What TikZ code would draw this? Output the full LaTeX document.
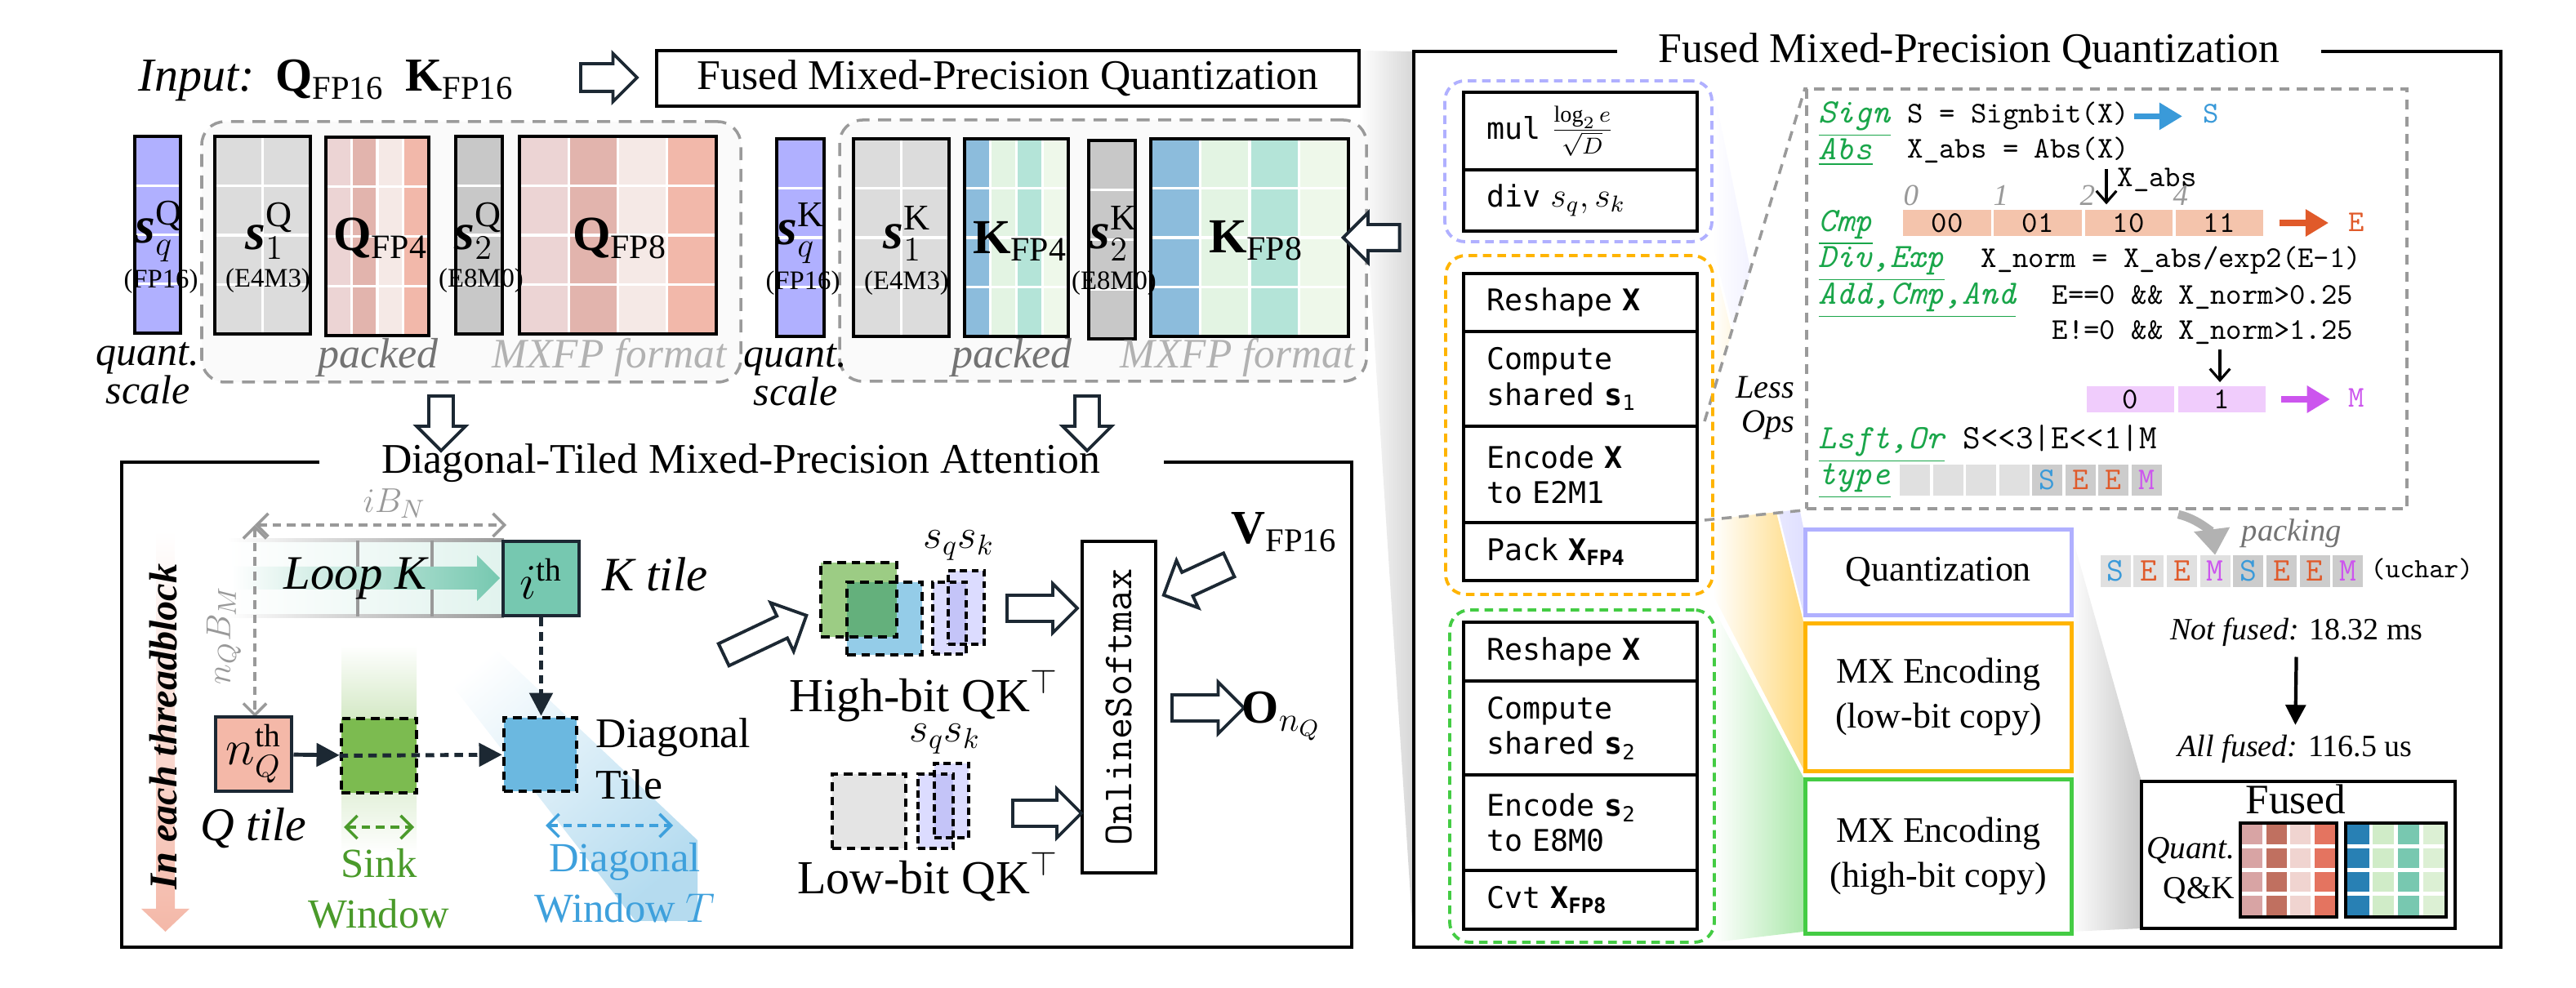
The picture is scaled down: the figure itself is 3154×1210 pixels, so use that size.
\documentclass[tikz,border=0pt]{standalone}
\usepackage{fontspec}
\setmainfont{Liberation Serif}
\newfontfamily\opsfont{DejaVu Sans Mono}
\usetikzlibrary{positioning,arrows.meta,fit,shapes.arrows}

\definecolor{darkline}{HTML}{1C2833}
\definecolor{dashgray}{HTML}{9A9A9A}
\definecolor{sqpurple}{HTML}{B0B0FF}
\definecolor{sonegray}{HTML}{DCDCDC}
\definecolor{stwogray}{HTML}{C8C8C8}
\definecolor{qa}{HTML}{ECD4D4}
\definecolor{qb}{HTML}{E2B4AD}
\definecolor{qc}{HTML}{F5E9E6}
\definecolor{qd}{HTML}{F2B8AA}
\definecolor{ka}{HTML}{8CBCDC}
\definecolor{kb}{HTML}{E3F4E3}
\definecolor{kc}{HTML}{B4E4D8}
\definecolor{kd}{HTML}{EEF8EA}
\definecolor{fqa}{HTML}{D8A4A4}
\definecolor{fqb}{HTML}{C07060}
\definecolor{fqc}{HTML}{F0D4D0}
\definecolor{fqd}{HTML}{E47460}
\definecolor{fka}{HTML}{2880B4}
\definecolor{fkb}{HTML}{D0ECC8}
\definecolor{fkc}{HTML}{78C8B0}
\definecolor{fkd}{HTML}{DCF0D4}
\definecolor{tealtile}{HTML}{76C8B0}
\definecolor{salmontile}{HTML}{F4B8A8}
\definecolor{sinkgreen}{HTML}{7CBB50}
\definecolor{diagblue}{HTML}{6BB8E0}
\definecolor{sinktext}{HTML}{4A9A2A}
\definecolor{diagtext}{HTML}{3EA0DC}
\definecolor{hgreen}{HTML}{9CCC84}
\definecolor{hblue}{HTML}{94CCE8}
\definecolor{hover}{HTML}{64B07C}
\definecolor{lav}{HTML}{DCDCFF}
\definecolor{lavover}{HTML}{C4C4F8}
\definecolor{lowgray}{HTML}{E4E4E4}
\definecolor{grpurple}{HTML}{B0B0FF}
\definecolor{grorange}{HTML}{FFB400}
\definecolor{grgreen}{HTML}{44CC44}
\definecolor{codegreen}{HTML}{1AA64A}
\definecolor{sblue}{HTML}{3A9AD9}
\definecolor{eorange}{HTML}{E05A2A}
\definecolor{mpurple}{HTML}{CC55EE}
\definecolor{ecell}{HTML}{F4C4AC}
\definecolor{mcell}{HTML}{F0CCFC}
\definecolor{lightcell}{HTML}{E0E0E0}
\definecolor{darkcell}{HTML}{CCCCCC}

\newcommand{\fsz}[2]{\fontsize{#1}{#2}\selectfont}
\newcommand{\sv}{\textbf{\textit{s}}}
\newcommand{\gapw}{0.9pt}
% columns of colour with a white 4-row grid, outlined and named
\newcommand{\mxblock}[7]{%
  \foreach \cc [count=\ci from 0] in {#7} {
    \fill[\cc] ({#2+\ci*(#4-#2)/#6},#3) rectangle ({#2+(\ci+1)*(#4-#2)/#6},#5);
    \draw[white,line width=\gapw] ({#2+\ci*(#4-#2)/#6},#3) -- ({#2+\ci*(#4-#2)/#6},#5);
  }
  \foreach \ri in {1,2,3}
    \draw[white,line width=\gapw] (#2,{#3+\ri*(#5-#3)/4}) -- (#4,{#3+\ri*(#5-#3)/4});
  \node[fit={(#2,#3) (#4,#5)},inner sep=0pt,draw,line width=1pt] (#1) {};
}

\begin{document}
\begin{tikzpicture}[x=0.01cm,y=-0.01cm,
  hollow/.style n args={3}{single arrow,draw=darkline,fill=white,line width=1.1pt,inner xsep=0pt,inner ysep=#2,minimum height=#1,single arrow head extend=#3},
  qkgrp/.style={draw=dashgray,dash pattern=on 4.5pt off 3pt,line width=1pt,rounded corners=8pt,fill=black!2,inner sep=0pt},
  slabel/.style={font=\fsz{18}{20}},
  fmtlabel/.style={font=\fsz{9.3}{10}},
  biglabel/.style={font=\fsz{17}{20}},
  scalenote/.style={anchor=north,inner sep=0pt,align=center,font=\itshape\fsz{14.2}{13.4}},
  tiledash/.style={draw=black,line width=1.3pt,dash pattern=on 3pt off 2pt,inner sep=0pt},
  smalldash/.style={draw=black,line width=1pt,dash pattern=on 2.5pt off 1.5pt,inner sep=0pt},
  tilebox/.style={draw=darkline,line width=1.4pt,inner sep=0pt,minimum width=0.93cm,minimum height=0.91cm},
  blackarrow/.style={darkline,line width=1.4pt,-{Triangle[length=8pt,width=8pt]}},
  dimline/.style={black!40,line width=1pt,dash pattern=on 3pt off 2pt,{Straight Barb[length=4pt,width=8pt]}-{Straight Barb[length=4pt,width=8pt]}},
  winline/.style={line width=1pt,dash pattern=on 3pt off 2pt,{Straight Barb[length=4pt,width=8pt]}-{Straight Barb[length=4pt,width=8pt]}},
  grp/.style={dash pattern=on 3pt off 2pt,line width=1.1pt,rounded corners=7pt,inner sep=0pt},
  opbox/.style={draw,line width=1.2pt,anchor=north west,inner xsep=0.28cm,inner ysep=0pt,text width=2.3cm,minimum width=2.86cm,align=left,font=\opsfont\fsz{10.4}{12.3}},
  mxbox/.style={draw,line width=1.3pt,anchor=north west,minimum width=3.26cm,align=center,font=\fsz{12.5}{15.6}},
  lbl/.style={font=\ttfamily\itshape\fsz{11.9}{14},text=codegreen,anchor=base west,inner sep=0pt},
  code/.style={font=\ttfamily\fsz{10.5}{12},anchor=base west,inner sep=0pt},
  cell/.style={minimum width=1.07cm,minimum height=0.32cm,inner sep=0pt,font=\ttfamily\fsz{10.5}{12}},
  bitcell/.style={minimum width=0.37cm,minimum height=0.38cm,inner sep=0pt,font=\ttfamily\fsz{11}{12}},
  numlbl/.style={anchor=base west,inner sep=0pt,text=black!40,font=\itshape\fsz{10.5}{12}},
  colarrow/.style={line width=2pt,-{Triangle[length=8pt,width=9pt]}},
  thinarrow/.style={line width=0.9pt,-{Straight Barb[length=4pt,width=7pt]}}
]
\useasboundingbox (0,0) rectangle (3154,1210);
\shade[left color=white,right color=black!16] (1664,62) -- (1731,63) -- (1731,1160) -- (1664,130) -- cycle;

% ---- input row
\node[anchor=base west,inner sep=0pt,font=\fsz{16.5}{18}] (inp) at (169,112) {\textit{Input:}\hspace{0.45em}\textbf{Q}\textsubscript{FP16}\hspace{0.45em}\textbf{K}\textsubscript{FP16}};
\node[hollow={0.69cm}{0.15cm}{0.125cm}] (a0) at (737,95) {};
\node[draw,line width=1.1pt,minimum width=8.6cm,minimum height=0.68cm,font=\fsz{14.7}{17}] (fmpq) at (1234,96) {Fused Mixed-Precision Quantization};

% ---- quantized Q
\node[qkgrp,fit={(247,149) (907,468)}] (qgrp) {};
\mxblock{sqq}{165}{167}{221}{408}{1}{sqpurple}
\mxblock{soneq}{263}{167}{380}{409}{2}{sonegray,sonegray}
\mxblock{qfp4}{399}{168}{525}{411}{4}{qa,qb,qc,qd}
\mxblock{stwoq}{558}{167}{615}{409}{1}{stwogray}
\mxblock{qfp8}{636}{167}{877}{409}{4}{qa,qb,qc,qd}
\node[slabel] (lsqq) at (195,283) {\sv$^{\mathrm{Q}}_{q}$};
\node[fmtlabel] (fsqq) at (197,345) {(FP16)};
\node[slabel] (lsoneq) at (330,283) {\sv$^{\mathrm{Q}}_{1}$};
\node[fmtlabel] (fsoneq) at (328,344) {(E4M3)};
\node[biglabel] (lqfp4) at (466,292) {\textbf{Q}\textsubscript{FP4}};
\node[slabel] (lstwoq) at (586,283) {\sv$^{\mathrm{Q}}_{2}$};
\node[fmtlabel] (fstwoq) at (589,344) {(E8M0)};
\node[biglabel] (lqfp8) at (759,292) {\textbf{Q}\textsubscript{FP8}};
\node[scalenote] (qsc) at (181,419) {quant.\\scale};
\node[anchor=base,text=black!55,font=\itshape\fsz{14.8}{16}] (qpk) at (463,451) {packed};
\node[anchor=base,text=black!30,font=\itshape\fsz{14.6}{16}] (qmx) at (746,451) {MXFP format};

% ---- quantized K
\node[qkgrp,fit={(1028,147) (1673,467)}] (kgrp) {};
\mxblock{sqk}{951}{170}{1009}{412}{1}{sqpurple}
\mxblock{sonek}{1045}{170}{1162}{412}{2}{sonegray,sonegray}
\mxblock{kfp4}{1181}{170}{1308}{412}{4}{ka,kb,kc,kd}
\mxblock{stwok}{1333}{172}{1390}{415}{1}{stwogray}
\mxblock{kfp8}{1409}{170}{1651}{412}{4}{ka,kb,kc,kd}
\node[slabel] (lsqk) at (981,286) {\sv$^{\mathrm{K}}_{q}$};
\node[fmtlabel] (fsqk) at (983,347) {(FP16)};
\node[slabel] (lsonek) at (1111,286) {\sv$^{\mathrm{K}}_{1}$};
\node[fmtlabel] (fsonek) at (1110,347) {(E4M3)};
\node[biglabel] (lkfp4) at (1249,295) {\textbf{K}\textsubscript{FP4}};
\node[slabel] (lstwok) at (1364,286) {\sv$^{\mathrm{K}}_{2}$};
\node[fmtlabel] (fstwok) at (1364,347) {(E8M0)};
\node[biglabel] (lkfp8) at (1538,295) {\textbf{K}\textsubscript{FP8}};
\node[scalenote] (ksc) at (974,421) {quant.\\scale};
\node[anchor=base,text=black!55,font=\itshape\fsz{14.8}{16}] (kpk) at (1239,451) {packed};
\node[anchor=base,text=black!30,font=\itshape\fsz{14.6}{16}] (kmx) at (1515,451) {MXFP format};
\node[hollow={0.69cm}{0.14cm}{0.145cm},rotate=180] (akin) at (1687,291) {};
\node[hollow={0.67cm}{0.13cm}{0.15cm},rotate=-90] (aq) at (540,511) {};
\node[hollow={0.67cm}{0.13cm}{0.15cm},rotate=-90] (ak) at (1331,511) {};

% ---- attention panel
\draw[line width=1.3pt] (391,566) -- (149,566) -- (149,1160) -- (1655,1160) -- (1655,566) -- (1425,566);
\node[anchor=base,font=\fsz{14.7}{17}] (dtitle) at (907,580) {Diagonal-Tiled Mixed-Precision Attention};
\shade[top color=white,bottom color=salmontile] (191,650) -- (214,650) -- (214,1113) -- (232,1113) -- (202.5,1141) -- (173,1113) -- (191,1113) -- cycle;
\node[rotate=90,font=\bfseries\itshape\fsz{13.7}{15}] (tb) at (200,890) {In each threadblock};
\shade[left color=white,right color=tealtile!22] (278,662) rectangle (617,755);
\shade[left color=white,right color=black!40] (278,660) rectangle (617,664);
\shade[left color=white,right color=black!40] (278,753) rectangle (617,757);
\draw[black!40,line width=0.9pt] (438,662) -- (438,755) (529,662) -- (529,755);
\shade[left color=white,right color=tealtile] (283,694) -- (584,694) -- (584,680) -- (612,708) -- (584,736) -- (584,722) -- (283,722) -- cycle;
\node[anchor=base west,inner sep=0pt,font=\itshape\fsz{16.7}{18}] (loopk) at (347,722) {Loop K};
\shade[top color=white,bottom color=sinkgreen!40] (418,790) rectangle (510,900);
\shade[top color=sinkgreen!40,bottom color=white] (418,900) rectangle (510,1045);
\shade[top color=white,bottom color=diagblue!50,shading angle=40] (515,790) -- (589,778) -- (854,1029) -- (854,1128) -- (778,1128) -- cycle;
\coordinate (dc) at (312,643);
\coordinate (dn) at (620,643);
\coordinate (dm) at (312,878);
\draw[dimline] (dc) -- (dn);
\draw[dimline] (dc) -- (dm);
\node[text=black!40,font=\fsz{13}{14}] (ibn) at (483,617) {$iB_N$};
\node[rotate=90,text=black!40,font=\fsz{13}{14}] (nqbm) at (274,778) {$n_QB_M$};
\node[tilebox,fill=tealtile,font=\fsz{16}{18}] (kt) at (662.5,708.5) {$i^{\mathrm{th}}$};
\node[anchor=base west,inner sep=0pt,font=\itshape\fsz{16.7}{18}] (ktl) at (737,724) {K tile};
\node[tilebox,fill=salmontile,font=\fsz{16}{18}] (qt) at (310.5,923.5) {$n_Q^{\mathrm{th}}$};
\node[anchor=base west,inner sep=0pt,font=\itshape\fsz{16.4}{18}] (qtl) at (245,1030) {Q tile};
\node[tiledash,fill=sinkgreen,minimum width=0.92cm,minimum height=0.91cm] (sk) at (464,925.5) {};
\node[tiledash,fill=diagblue,minimum width=0.89cm,minimum height=0.90cm] (dg) at (661.5,924) {};
\draw[blackarrow,dash pattern=on 3pt off 2pt] (kt) -- (kt |- dg.north);
\draw[blackarrow] (qt) -- (sk);
\draw[blackarrow,dash pattern=on 3pt off 2pt] (sk.west) -- (dg);
\coordinate (sw1) at (421,1013);
\coordinate (sw2) at (507,1013);
\coordinate (dw1) at (668,1011);
\coordinate (dw2) at (824,1011);
\draw[winline,sinktext] (sw1) -- (sw2);
\draw[winline,diagtext] (dw1) -- (dw2);
\node[anchor=north west,inner sep=0pt,align=left,font=\fsz{14.7}{17.9}] (dtl) at (729,879) {Diagonal\\Tile};
\node[anchor=north,inner sep=0pt,align=center,text=sinktext,font=\fsz{14.4}{17.6}] (swl) at (464,1039) {Sink\\Window};
\node[anchor=north,inner sep=0pt,align=center,text=diagtext,font=\fsz{14.4}{17.6}] (dwl) at (765,1032) {Diagonal\\Window $T$};
\node[hollow={1.12cm}{0.13cm}{0.18cm},rotate=25.4] (ahigh) at (930,781) {};
% high-bit product
\fill[hgreen] (1005,689) rectangle (1098,780);
\fill[hblue] (1037,713) rectangle (1129,802);
\fill[hover] (1037,713) rectangle (1098,780);
\node[tiledash,fit={(1005,689) (1098,780)}] (hq) {};
\node[tiledash,fit={(1037,713) (1129,802)}] (hk) {};
\fill[lav] (1142,713) rectangle (1183,801);
\fill[lav] (1161,699) rectangle (1205,789);
\fill[lavover] (1161,713) rectangle (1183,789);
\node[smalldash,fit={(1142,713) (1183,801)}] (hs1) {};
\node[smalldash,fit={(1161,699) (1205,789)}] (hs2) {};
\node[font=\fsz{14}{16}] (hsc) at (1174,668) {$s_qs_k$};
\node[anchor=base,font=\fsz{16.5}{18}] (hlab) at (1131,872) {High-bit QK$^{\top}$};
% low-bit product
\fill[lowgray] (1019,948) rectangle (1109,1039);
\node[tiledash,fit={(1019,948) (1109,1039)}] (lq) {};
\fill[lav] (1124,948) rectangle (1167,1039);
\fill[lav] (1144,935) rectangle (1186,1026);
\fill[lavover] (1144,948) rectangle (1167,1026);
\node[smalldash,fit={(1124,948) (1167,1039)}] (ls1) {};
\node[smalldash,fit={(1144,935) (1186,1026)}] (ls2) {};
\node[font=\fsz{14}{16}] (lsc) at (1157,905) {$s_qs_k$};
\node[anchor=base,font=\fsz{16.5}{18}] (llab) at (1136,1095) {Low-bit QK$^{\top}$};
\node[draw,line width=1pt,rotate=90,minimum width=4.06cm,minimum height=0.9cm,font=\ttfamily\fsz{14.4}{16}] (smax) at (1370,866) {OnlineSoftmax};
\node[hollow={0.86cm}{0.14cm}{0.14cm}] (a1) at (1268,745) {};
\node[hollow={0.84cm}{0.14cm}{0.14cm}] (a2) at (1274,996) {};
\node[anchor=base west,inner sep=0pt,font=\fsz{16.5}{18}] (vin) at (1507,666) {\textbf{V}\textsubscript{FP16}};
\node[hollow={0.88cm}{0.14cm}{0.16cm},rotate=204.8] (a3) at (1472,707) {};
\node[hollow={0.88cm}{0.14cm}{0.155cm}] (a4) at (1471,867) {};
\node[anchor=base west,inner sep=0pt,font=\fsz{16.5}{18}] (onq) at (1520,886) {\textbf{O}$_{n_Q}$};

% ---- quantization panel
\draw[line width=1.3pt] (1980,63) -- (1731,63) -- (1731,1160) -- (3062,1160) -- (3062,63) -- (2842,63);
\node[anchor=base,font=\fsz{14.7}{17}] (qtitle) at (2411,77) {Fused Mixed-Precision Quantization};
\shade[left color=white,right color=grpurple!40] (2096,99) -- (2208,646) -- (2208,751) -- (2096,296) -- cycle;
\shade[left color=white,right color=grorange!50] (2097,313) -- (2208,761) -- (2208,942) -- (2097,728) -- cycle;
\shade[left color=white,right color=grgreen!45] (2099,747) -- (2208,952) -- (2208,1141) -- (2099,1154) -- cycle;
\shade[left color=white,right color=black!22] (2534,646) -- (2622,957) -- (2622,1137) -- (2534,1141) -- cycle;
\coordinate (ztop) at (2087,516);
\coordinate (zbot) at (2087,637);
\coordinate (cbnw) at (2212,109);
\coordinate (cbsw) at (2212,623);
\fill[white] (ztop) -- (cbnw) -- (cbsw) -- (zbot) -- cycle;
\node[draw=dashgray,dash pattern=on 3.5pt off 2.5pt,line width=1pt,fill=white,inner sep=0pt,fit={(cbnw) (2947,623)}] (codebox) {};
\draw[dashgray,dash pattern=on 3.5pt off 2.5pt,line width=1pt] (ztop) -- (codebox.north west);
\draw[dashgray,dash pattern=on 3.5pt off 2.5pt,line width=1pt] (zbot) -- (codebox.south west);
\node[grp,draw=grpurple,fit={(1769,99) (2096,296)}] (pgrp) {};
\node[grp,draw=grorange,fit={(1770,313) (2097,728)}] (ogrp) {};
\node[grp,draw=grgreen,fit={(1775,747) (2099,1154)}] (ggrp) {};
\node[opbox,minimum height=0.95cm] (mul) at (1790,111) {mul {\fsz{12}{12}$\frac{\log_2 e}{\sqrt{D}}$}};
\node[opbox,minimum height=0.75cm] (dv) at (1790,206) {div {\fsz{12}{12}$s_q,s_k$}};
\node[opbox,minimum height=0.71cm] (rs1) at (1790,333) {Reshape \textbf{X}};
\node[opbox,minimum height=1.16cm] (cs1) at (1790,404) {Compute\\shared \textbf{s}\textsubscript{1}};
\node[opbox,minimum height=1.18cm] (en1) at (1790,520) {Encode \textbf{X}\\to E2M1};
\node[opbox,minimum height=0.71cm] (pk1) at (1790,638) {Pack \textbf{X}\textsubscript{\textbf{FP4}}};
\node[opbox,minimum height=0.72cm] (rs2) at (1790,760) {Reshape \textbf{X}};
\node[opbox,minimum height=1.15cm] (cs2) at (1790,832) {Compute\\shared \textbf{s}\textsubscript{2}};
\node[opbox,minimum height=1.17cm] (en2) at (1790,947) {Encode \textbf{s}\textsubscript{2}\\to E8M0};
\node[opbox,minimum height=0.72cm] (cv2) at (1790,1064) {Cvt \textbf{X}\textsubscript{\textbf{FP8}}};
\node[mxbox,draw=grpurple,minimum height=1.05cm] (qb) at (2208,646) {Quantization};
\node[mxbox,draw=grorange,minimum height=1.81cm] (mxl) at (2208,761) {MX Encoding\\(low-bit copy)};
\node[mxbox,draw=grgreen,minimum height=1.89cm] (mxh) at (2208,952) {MX Encoding\\(high-bit copy)};
\node[anchor=north east,inner sep=0pt,align=right,font=\itshape\fsz{11.5}{12}] (lessops) at (2198,460) {Less\\Ops};

% code lines
\node[lbl] (lsign) at (2226,151) {\underline{Sign}};
\node[code] (csign) at (2335,151) {S = Signbit(X)};
\node[code,text=sblue] (outs) at (2697,151) {S};
\draw[colarrow,sblue,shorten <=1.4pt,shorten >=7.1pt] (csign.east) -- (csign.east -| outs.west);
\node[lbl] (labs) at (2226,196) {\underline{Abs}};
\node[code] (cabs) at (2335,194) {X\_abs = Abs(X)};
\node[code] (xalab) at (2592,229) {X\_abs};
\node[numlbl] (n0) at (2330,252) {0};
\node[numlbl] (n1) at (2440,252) {1};
\node[numlbl] (n2) at (2546,252) {2};
\node[numlbl] (n4) at (2660,252) {4};
\node[lbl] (lcmp) at (2226,284) {\underline{Cmp}};
\foreach \t [count=\i from 0] in {00,01,10,11}
  \node[cell,fill=ecell] (e\i) at ({2384+\i*111},273) {\t};
\coordinate (xa) at (2579,207);
\draw[thinarrow,shorten >=1.7pt] (xa) -- (xa |- e2.north);
\node[code,text=eorange] (oute) at (2875,284) {E};
\draw[colarrow,eorange,shorten <=5.5pt,shorten >=6.8pt] (e3.east) -- (e3.east -| oute.west);
\node[lbl] (ldiv) at (2226,328) {\underline{Div,Exp}};
\node[code] (cnorm) at (2425,328) {X\_norm = X\_abs/exp2(E-1)};
\node[lbl] (ladd) at (2226,373) {\underline{Add,Cmp,And}};
\node[code] (ceq) at (2512,373) {E==0 \&\& X\_norm>0.25};
\node[code] (cne) at (2512,416) {E!=0 \&\& X\_norm>1.25};
\foreach \t [count=\i from 0] in {0,1}
  \node[cell,fill=mcell] (m\i) at ({2608.5+\i*111.5},489) {\t};
\coordinate (xn) at (2718,428);
\draw[thinarrow,shorten >=1.2pt] (xn) -- (xn |- m1.north);
\node[code,text=mpurple] (outm) at (2875,499) {M};
\draw[colarrow,mpurple,shorten <=5.4pt,shorten >=6.3pt] (m1.east) -- (m1.east -| outm.west);
\node[lbl] (lsft) at (2226,550) {\underline{Lsft,Or}};
\node[code,font=\ttfamily\fsz{11.9}{14}] (cor) at (2403,550) {S<{}<3|E<{}<1|M};
\node[lbl] (ltype) at (2226,594) {\underline{type}};
\foreach \l/\c/\b [count=\i from 0] in {/black/lightcell,/black/lightcell,/black/lightcell,/black/lightcell,S/sblue/darkcell,E/eorange/darkcell,E/eorange/darkcell,M/mpurple/darkcell}
  \node[bitcell,fill=\b,text=\c] (ty\i) at ({2344.5+\i*40.5},588) {\l};

% packing and timing
\foreach \l/\c/\b [count=\i from 0] in {S/sblue/lightcell,E/eorange/lightcell,E/eorange/lightcell,M/mpurple/lightcell,S/sblue/darkcell,E/eorange/darkcell,E/eorange/darkcell,M/mpurple/darkcell}
  \node[bitcell,fill=\b,text=\c,font=\ttfamily\fsz{11.5}{12}] (pk\i) at ({2590+\i*40.7},699.5) {\l};
\node[code,font=\ttfamily\fsz{9.7}{11}] (uch) at (2902,708) {(uchar)};
\coordinate (pkstart) at (2667,630);
\draw[black!30,line width=3pt,-{Triangle[length=9pt,width=12pt]}] (pkstart) to[bend left=35] (pk3.north);
\node[anchor=base west,inner sep=0pt,text=black!55,font=\itshape\fsz{11}{12}] (packtxt) at (2744,663) {packing};
\node[anchor=base,font=\fsz{10.8}{12}] (nf) at (2812,784) {\textit{Not fused:} 18.32 ms};
\node[anchor=base,font=\fsz{10.8}{12}] (af) at (2810,927) {\textit{All fused:} 116.5 us};
\draw[line width=1.2pt,-{Triangle[length=7pt,width=7pt]}] (nf) -- (af);
\node[draw,line width=1.3pt,fit={(2622,957) (3006,1137)},inner sep=0pt,fill=white] (fusedbox) {};
\node[anchor=base,font=\fsz{14.6}{16}] (fusedt) at (2811,997) {Fused};
\node[anchor=east,align=right,inner sep=0pt,font=\fsz{11.2}{14}] (qkq) at (2737,1066) {\textit{Quant.}\\Q\&K};
\renewcommand{\gapw}{1.3pt}
\mxblock{fq}{2743}{1008}{2861}{1123}{4}{fqa,fqb,fqc,fqd}
\mxblock{fk}{2872}{1008}{2995}{1123}{4}{fka,fkb,fkc,fkd}
\end{tikzpicture}
\end{document}
